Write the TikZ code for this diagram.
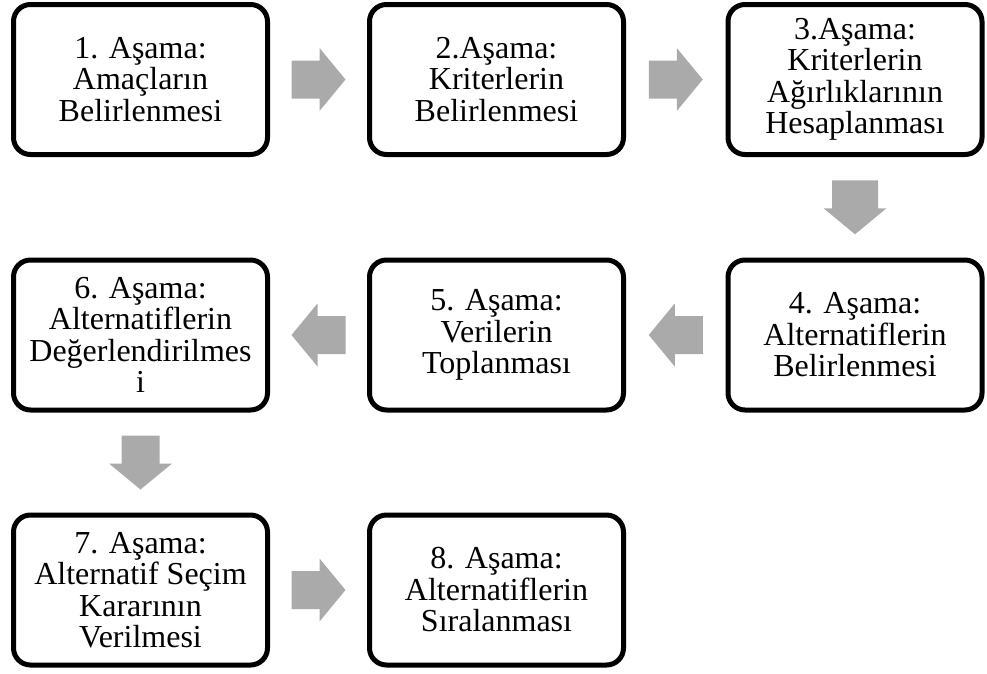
\documentclass[tikz,border=0pt]{standalone}
\usepackage{fontspec}
\setmainfont{Liberation Serif}
\usetikzlibrary{calc}
\definecolor{arrowgray}{RGB}{170,170,170}
\tikzset{
  stagebox/.style={draw=black, line width=5pt, rounded corners=17pt, fill=white,
    minimum width=254pt, minimum height=150pt, inner sep=0pt, align=center,
    font=\fontsize{32pt}{31.5pt}\selectfont},
  blockarrow/.pic={\fill[arrowgray] (-27,-19) -- (1,-19) -- (1,-31.5) -- (27,0) -- (1,31.5) -- (1,19) -- (-27,19) -- cycle;},
  widearrow/.pic={\fill[arrowgray] (-27,-23) -- (1,-23) -- (1,-31.5) -- (27,0) -- (1,31.5) -- (1,23) -- (-27,23) -- cycle;}
}
\begin{document}
\begin{tikzpicture}[x=1pt,y=-1pt]
\useasboundingbox (0,0) rectangle (987,673);
\node[stagebox] (b1) at (140.5,79.5) {1. Aşama:\\Amaçların\\Belirlenmesi};
\node[stagebox] (b2) at (496.5,79.5) {2.Aşama:\\Kriterlerin\\Belirlenmesi};
\node[stagebox] (b3) at (855,79.5) {3.Aşama:\\Kriterlerin\\Ağırlıklarının\\Hesaplanması};
\node[stagebox] (b4) at (855,335) {4. Aşama:\\Alternatiflerin\\Belirlenmesi};
\node[stagebox] (b5) at (496.5,335) {5. Aşama:\\Verilerin\\Toplanması};
\node[stagebox] (b6) at (140.5,335) {6. Aşama:\\Alternatiflerin\\Değerlendirilmes\\i};
\node[stagebox] (b7) at (140.5,590) {7. Aşama:\\Alternatif Seçim\\Kararının\\Verilmesi};
\node[stagebox] (b8) at (496.5,590) {8. Aşama:\\Alternatiflerin\\Sıralanması};
\pic at ($(b1.east)!0.5!(b2.west)$) {blockarrow};
\pic at ($(b2.east)!0.5!(b3.west)$) {blockarrow};
\pic[rotate=-90] at ($(b3.south)!0.5!(b4.north)$) {widearrow};
\pic[rotate=180] at ($(b4.west)!0.5!(b5.east)$) {blockarrow};
\pic[rotate=180] at ($(b5.west)!0.5!(b6.east)$) {blockarrow};
\pic[rotate=-90] at ($(b6.south)!0.5!(b7.north)$) {blockarrow};
\pic at ($(b7.east)!0.5!(b8.west)$) {blockarrow};
\end{tikzpicture}
\end{document}
